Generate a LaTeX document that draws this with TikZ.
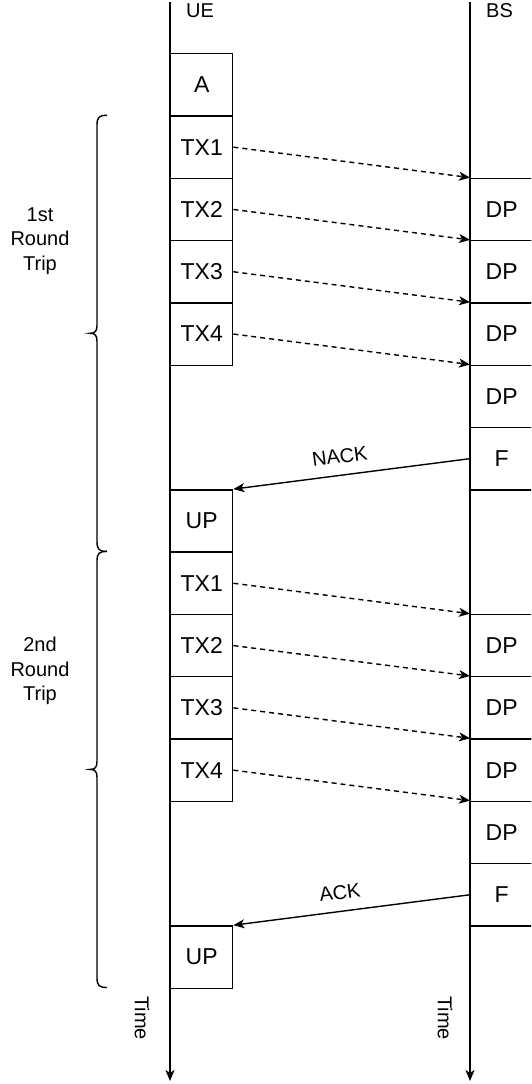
\documentclass[tikz,border=0pt]{standalone}
\usepackage{fontspec}
\setmainfont{Liberation Sans}
\usetikzlibrary{arrows.meta,calc}
\begin{document}
\begin{tikzpicture}[x=1pt,y=-1pt,
  box/.style={draw,line width=1.4pt,minimum width=62pt,minimum height=62.3pt,inner sep=0pt,anchor=north west,font=\fontsize{23}{27}\selectfont},
  lbl/.style={font=\fontsize{20}{24.5}\selectfont,inner sep=0pt},
  tip/.style={-{Stealth[length=11pt,width=9pt,inset=3pt]}},
  life/.style={line width=1.8pt,tip},
  msg/.style={line width=1.4pt,tip},
  data/.style={msg,dash pattern=on 5pt off 4pt},
  brace/.style={line width=1.4pt}]
\clip (0,0) rectangle (531,1084);
% lifelines
\coordinate (uetop) at (170,2);
\coordinate (uebot) at (170,1081);
\coordinate (bstop) at (470,2);
\coordinate (bsbot) at (470,1081);
\draw[life] (uetop) -- (uebot);
\draw[life] (bstop) -- (bsbot);
\node[lbl,anchor=base west] (uelbl) at (186,17.5) {UE};
\node[lbl,anchor=base west] (bslbl) at (486,17.5) {BS};
\node[lbl,rotate=-90] (time1) at (142,1018) {Time};
\node[lbl,rotate=-90] (time2) at (445,1018) {Time};
% UE boxes
\node[box] (a) at (170,53) {A};
\node[box] (tx11) at (170,115.3) {TX1};
\node[box] (tx12) at (170,177.6) {TX2};
\node[box] (tx13) at (170,239.9) {TX3};
\node[box] (tx14) at (170,302.2) {TX4};
\node[box] (up1) at (170,489.1) {UP};
\node[box] (tx21) at (170,551.4) {TX1};
\node[box] (tx22) at (170,613.7) {TX2};
\node[box] (tx23) at (170,676.0) {TX3};
\node[box] (tx24) at (170,738.3) {TX4};
\node[box] (up2) at (170,925.2) {UP};
% BS boxes
\node[box] (dp11) at (470,177.6) {DP};
\node[box] (dp12) at (470,239.9) {DP};
\node[box] (dp13) at (470,302.2) {DP};
\node[box] (dp14) at (470,364.5) {DP};
\node[box] (f1) at (470,426.8) {F};
\node[box] (dp21) at (470,613.7) {DP};
\node[box] (dp22) at (470,676.0) {DP};
\node[box] (dp23) at (470,738.3) {DP};
\node[box] (dp24) at (470,800.6) {DP};
\node[box] (f2) at (470,862.9) {F};
% data arrows
\draw[data] (tx11.east) -- (dp11.north west);
\draw[data] (tx12.east) -- (dp12.north west);
\draw[data] (tx13.east) -- (dp13.north west);
\draw[data] (tx14.east) -- (dp14.north west);
\draw[data] (tx21.east) -- (dp21.north west);
\draw[data] (tx22.east) -- (dp22.north west);
\draw[data] (tx23.east) -- (dp23.north west);
\draw[data] (tx24.east) -- (dp24.north west);
% feedback
\draw[msg] (f1.west) -- node[lbl,pos=0.54,rotate=7.5,yshift=19pt] (nack) {NACK} (up1.north east);
\draw[msg] (f2.west) -- node[lbl,pos=0.54,rotate=7.5,yshift=19pt] (ack) {ACK} (up2.north east);
% braces
\draw[brace] (107,115.3) .. controls (99,115.3) and (97,117.3) .. (97,125.3) -- (97,325.3)
  .. controls (97,331.3) and (95,333.3) .. (90,333.3)
  .. controls (95,333.3) and (97,335.3) .. (97,341.3) -- (97,541.4)
  .. controls (97,549.4) and (99,551.4) .. (107,551.4);
\draw[brace] (107,551.4) .. controls (99,551.4) and (97,553.4) .. (97,561.4) -- (97,761.4)
  .. controls (97,767.4) and (95,769.4) .. (90,769.4)
  .. controls (95,769.4) and (97,771.4) .. (97,777.4) -- (97,977.5)
  .. controls (97,985.5) and (99,987.5) .. (107,987.5);
\node[lbl,align=center] (rt1) at (40,241) {1st\\Round\\Trip};
\node[lbl,align=center] (rt2) at (40,671) {2nd\\Round\\Trip};
\end{tikzpicture}
\end{document}
